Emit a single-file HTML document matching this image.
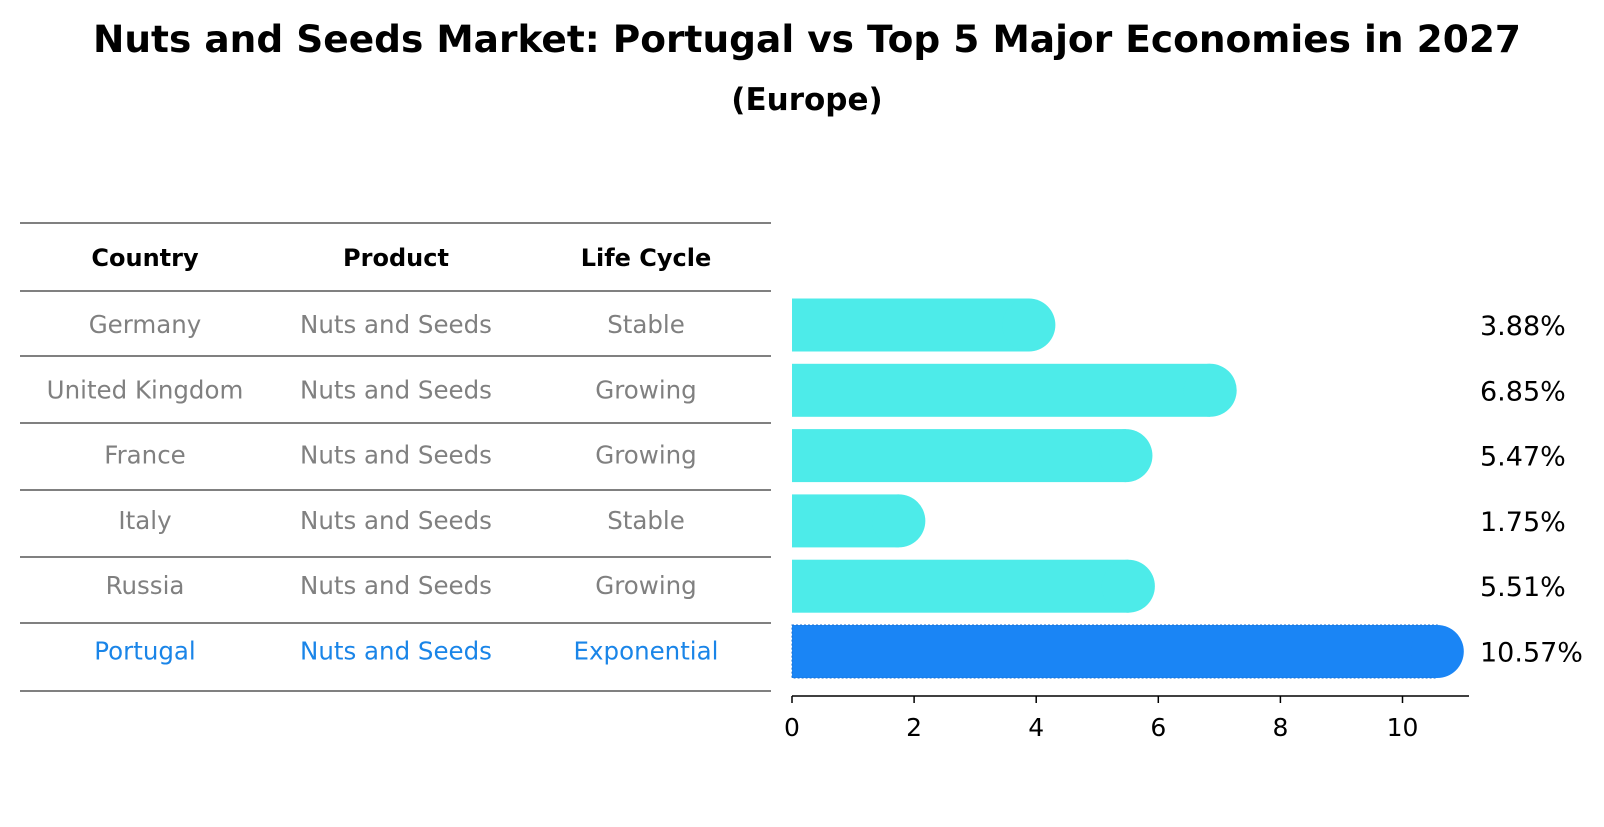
<!DOCTYPE html>
<html><head><meta charset="utf-8"><style>
body{margin:0;background:#fff;font-family:"DejaVu Sans","Liberation Sans",sans-serif;}
</style></head><body>
<svg width="1604" height="823" xmlns="http://www.w3.org/2000/svg" style="font-family:'DejaVu Sans','Liberation Sans',sans-serif">
<text x="807" y="52" text-anchor="middle" font-size="37.5" font-weight="bold">Nuts and Seeds Market: Portugal vs Top 5 Major Economies in 2027</text>
<text x="807" y="110" text-anchor="middle" font-size="31" font-weight="bold">(Europe)</text>
<g id="table"></g>
<g id="bars"></g>
</svg>
<script>
const countries=["Germany","United Kingdom","France","Italy","Russia","Portugal"];
const products=["Nuts and Seeds","Nuts and Seeds","Nuts and Seeds","Nuts and Seeds","Nuts and Seeds","Nuts and Seeds"];
const lifeCycles=["Stable","Growing","Growing","Stable","Growing","Exponential"];
const values=[3.88,6.85,5.47,1.75,5.51,10.57];
const ticks=[0,2,4,6,8,10];
const NS="http://www.w3.org/2000/svg";
function mk(t,a,p){const e=document.createElementNS(NS,t);for(const k in a)e.setAttribute(k,a[k]);p.appendChild(e);return e;}
const tbl=document.getElementById('table'),bars=document.getElementById('bars');
const lineYs=[223,291,356,423,490,557,623,691];
lineYs.forEach(y=>{const l=mk('line',{x1:20,x2:771,y1:y,y2:y,stroke:'#000','stroke-width':1},tbl);

});
const cx=[145,396,646];
["Country","Product","Life Cycle"].forEach((h,i)=>{const t=mk('text',{x:cx[i],y:266,'text-anchor':'middle','font-size':24,'font-weight':'bold'},tbl);t.textContent=h;

});
const X=v=>792+v*61.05;
const rowY=i=>325+i*65.3;
countries.forEach((c,i)=>{
 const col=i===5?'#1a85e8':'#808080';
 [c,products[i],lifeCycles[i]].forEach((s,j)=>{const t=mk('text',{x:cx[j],y:rowY(i)+8,'text-anchor':'middle','font-size':24.5,fill:col},tbl);t.textContent=s;
 
 });
 const fill=i===5?'#1a85f5':'#4debe9';
 const g=mk('g',{},bars);
 
 
 mk('rect',{x:792,y:rowY(i)-26.5,width:X(values[i])-792,height:53,fill:fill,stroke:i===5?'#1a6fd0':'none','stroke-dasharray':'2,2'},g);
 mk('circle',{cx:X(values[i]),cy:rowY(i),r:26.5,fill:fill},g);
 const t=mk('text',{x:1480,y:rowY(i)+10,'font-size':27},bars);t.textContent=values[i].toFixed(2)+'%';
 
 
});
const ax=mk('line',{x1:792,x2:1469,y1:696,y2:696,stroke:'#000','stroke-width':1.5},bars);


ticks.forEach(v=>{mk('line',{x1:X(v),x2:X(v),y1:696,y2:703,stroke:'#000','stroke-width':1.5},bars);
 const t=mk('text',{x:X(v),y:736,'text-anchor':'middle','font-size':25},bars);t.textContent=v;
 
 });
</script>
</body></html>
